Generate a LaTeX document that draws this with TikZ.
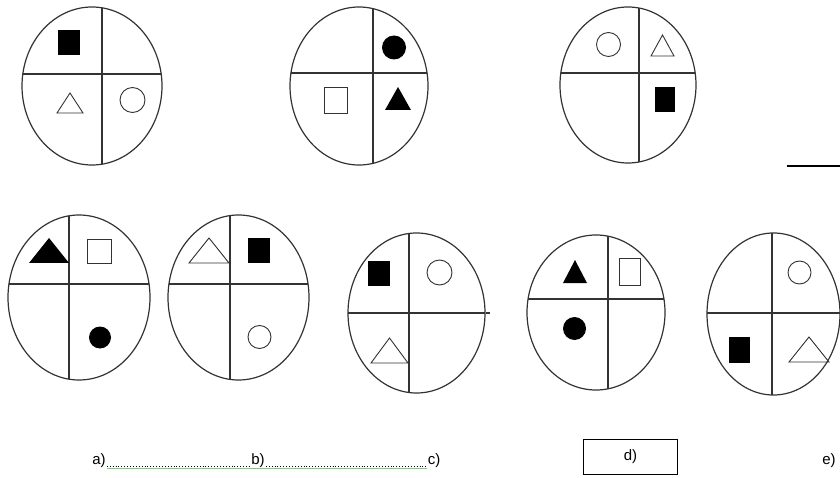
\documentclass[tikz,border=0pt]{standalone}
\usepackage{fontspec}
\setmainfont{Liberation Sans}
\usetikzlibrary{shapes.geometric, calc}
\tikzset{
  ring/.style n args={4}{ellipse, draw=black!80, line width=1.2pt, inner sep=0pt,
    minimum width=#1, minimum height=#2,
    path picture={
      \draw[black!80, line width=1.2pt]
        ([xshift=#3]path picture bounding box.north) -- ([xshift=#3]path picture bounding box.south);
      \draw[black!80, line width=1.2pt]
        ([yshift=#4]path picture bounding box.west) -- ([yshift=#4]path picture bounding box.east);
    }},
  sqB/.style={fill=black, inner sep=0pt, minimum width=22pt, minimum height=25pt},
  sqW/.style={draw=black!80, line width=0.9pt, inner sep=0pt, minimum width=22pt, minimum height=25pt},
  dotB/.style={circle, fill=black, inner sep=0pt, minimum size=23pt},
  dotW/.style={circle, draw=black!80, line width=0.9pt, inner sep=0pt, minimum size=24pt},
  triB/.style={fill=black},
  triW/.style={draw=black!80, line width=0.9pt},
  lbl/.style={font=\fontsize{15}{17}\selectfont, inner sep=1pt},
  leader/.style={dotted, line width=0.9pt},
}
% triangle: style, centre x, centre y, width, height
\newcommand{\tri}[5]{\path[#1] (#2,#3) ++(-#4/2,#5/2) -- ++(#4,0) -- ++(-#4/2,-#5) -- cycle;}

\begin{document}
\begin{tikzpicture}[x=1pt, y=-1pt]
\useasboundingbox (0,0) rectangle (840,478);

% ── Obere Reihe ─────────────────────────────────────────────
\node[ring={140pt}{158pt}{10pt}{12pt}] (p1) at (92,86) {};
\node[sqB] (p1s) at (69,43) {};
\tri{triW}{70}{103}{26}{20}
\node[dotW, minimum size=25pt] (p1c) at (132.5,100) {};

\node[ring={138pt}{158pt}{14pt}{13pt}] (p2) at (359,86) {};
\node[dotB, minimum size=24pt] (p2c) at (394,47.5) {};
\node[sqW, minimum width=23pt, minimum height=26pt] (p2s) at (335.5,100) {};
\tri{triB}{398}{98.5}{26}{23}

\node[ring={136pt}{156pt}{11pt}{12pt}] (p3) at (628,85) {};
\node[dotW] (p3c) at (608.5,44.5) {};
\tri{triW}{662.5}{45.5}{23}{21}
\node[sqB, minimum width=20pt] (p3s) at (665,99.5) {};

\coordinate (gapL) at (787,166);
\coordinate (gapR) at (840,166);
\draw[line width=2pt] (gapL) -- (gapR);

% ── Untere Reihe ────────────────────────────────────────────
\node[ring={142pt}{165pt}{-10pt}{13.5pt}] (oa) at (79,297.5) {};
\tri{triB}{49}{250.5}{40}{25}
\node[sqW, minimum width=24pt, minimum height=24pt] (oas) at (99,251) {};
\node[dotB, minimum size=22pt] (oac) at (100,337.5) {};

\node[ring={141pt}{165pt}{-8.5pt}{13.5pt}] (ob) at (238.5,297.5) {};
\tri{triW}{209}{250.5}{40}{25}
\node[sqB] (obs) at (259,250.5) {};
\node[dotW, minimum size=23pt] (obc) at (259.5,337) {};

\node[ring={137pt}{160pt}{-7.5pt}{0pt}] (oc) at (416.5,313) {};
\coordinate (ocR) at (490,313);
\draw[black!80, line width=1.2pt] (oc.east) -- (ocR);
\node[sqB] (ocs) at (379,273.5) {};
\tri{triW}{389.5}{350.5}{37}{25}
\node[dotW, minimum size=25pt] (occ) at (439.5,272.5) {};

\node[ring={138pt}{155pt}{12pt}{13.5pt}] (od) at (596,312.5) {};
\tri{triB}{575}{271.5}{24}{23}
\node[sqW, minimum width=21pt, minimum height=27pt] (ods) at (629.5,271.5) {};
\node[dotB] (odc) at (574.5,328.5) {};

\node[ring={133pt}{162pt}{-1.5pt}{1pt}] (oe) at (773.5,314) {};
\node[dotW, minimum size=23pt] (oec) at (799.5,272.5) {};
\node[sqB, minimum width=21pt, minimum height=26pt] (oes) at (739.5,350) {};
\tri{triW}{809}{349.5}{40}{25}

% ── Antworten ───────────────────────────────────────────────
\node[lbl] (la) at (99,461) {a)};
\node[lbl] (lb) at (258,461) {b)};
\node[lbl] (lc) at (434,461) {c)};
\draw[green!60!black, opacity=0.5, line width=1pt] ([yshift=-3.5pt]la.base east) -- ([yshift=-3.5pt]lc.base west);
\draw[leader] ([yshift=-1.5pt]la.base east) -- ([yshift=-1.5pt]lb.base west);
\draw[leader] ([yshift=-1.5pt]lb.base east) -- ([yshift=-1.5pt]lc.base west);

\node[draw, line width=1.8pt, minimum width=94pt, minimum height=35pt] (bd) at (630.5,457) {};
\node[lbl] (ld) at (bd.center) {d)};
\node[lbl] (le) at (829,461) {e)};

\end{tikzpicture}
\end{document}
